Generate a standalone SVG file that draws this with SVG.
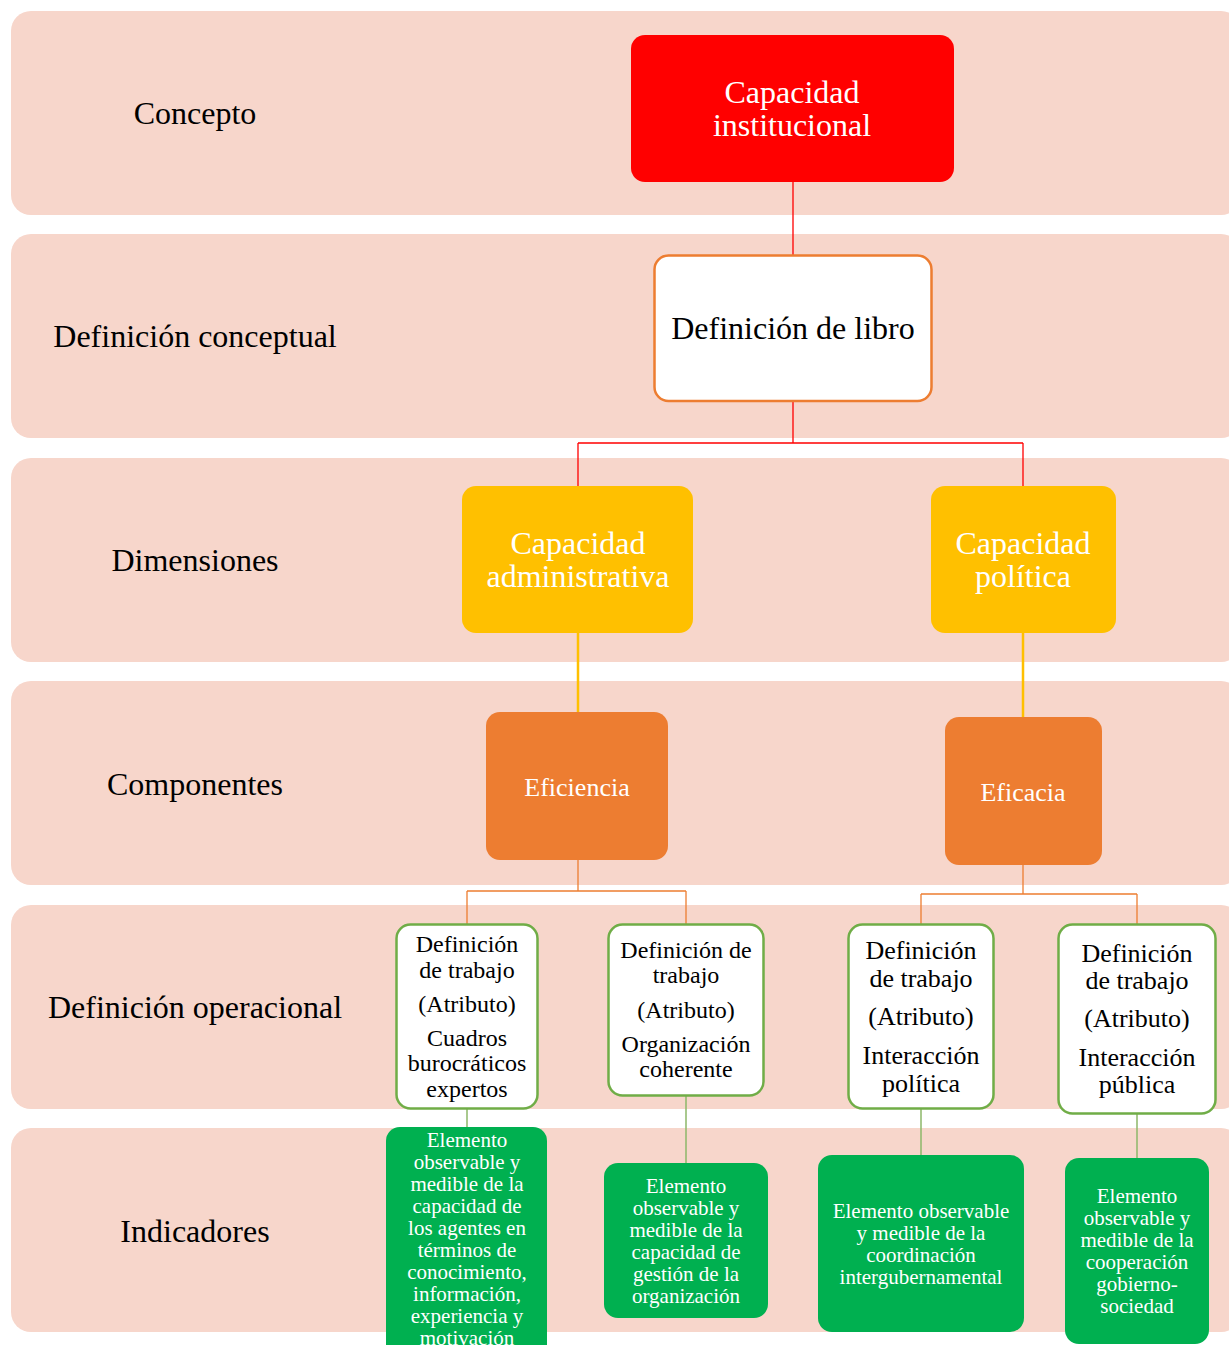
<svg xmlns="http://www.w3.org/2000/svg" width="1229" height="1345" viewBox="0 0 1229 1345">
<style>
text{font-family:"Liberation Serif","Times New Roman",serif;text-anchor:middle}
.band{fill:#F7D6CB}
.lbl{font-size:32px;fill:#000}
.w{fill:#fff}
.blk{fill:#000}
.op{fill:#fff;stroke:#70AD47;stroke-width:2.5}
.ind{fill:#00B050}
.red{stroke:#FF0000;stroke-width:1.3;fill:none}
.yel{stroke:#FFC000;stroke-width:2.5;fill:none}
.org{stroke:#ED7D31;stroke-width:1.3;fill:none}
.grn{stroke:#8DB86A;stroke-width:1.5;fill:none}
</style>
<rect width="1229" height="1345" fill="#fff"/>
<g id="bands">
<rect class="band" x="11" y="11" width="1230" height="204" rx="20"/>
<rect class="band" x="11" y="234" width="1230" height="204" rx="20"/>
<rect class="band" x="11" y="458" width="1230" height="204" rx="20"/>
<rect class="band" x="11" y="681" width="1230" height="204" rx="20"/>
<rect class="band" x="11" y="905" width="1230" height="204" rx="20"/>
<rect class="band" x="11" y="1128" width="1230" height="204" rx="20"/>
<text class="lbl" x="195" y="124">Concepto</text>
<text class="lbl" x="195" y="347">Definición conceptual</text>
<text class="lbl" x="195" y="571">Dimensiones</text>
<text class="lbl" x="195" y="795">Componentes</text>
<text class="lbl" x="195" y="1018">Definición operacional</text>
<text class="lbl" x="195" y="1242">Indicadores</text>
</g>
<g id="connectors">
<path class="red" d="M793 182V255M793 401V443M578 443H1023M578 443V486M1023 443V486"/>
<path class="yel" d="M578 633V712M1023 633V717"/>
<path class="org" d="M578 860V891M467 891H686M467 891V924M686 891V924M1023 865V894M921 894H1137M921 894V924M1137 894V924"/>
<path class="grn" d="M467 1109V1127M686 1096V1163M921 1109V1155M1137 1114V1158"/>
</g>
<g id="n-institucional">
<rect x="631" y="35" width="323" height="147" rx="14" fill="#FF0000"/>
<text class="w" font-size="32" x="792" y="103">Capacidad</text>
<text class="w" font-size="32" x="792" y="136">institucional</text>
</g>
<g id="n-libro">
<rect x="654.5" y="255.5" width="277" height="145.5" rx="14" fill="#fff" stroke="#ED7D31" stroke-width="2.5"/>
<text class="blk" font-size="32" x="793" y="339">Definición de libro</text>
</g>
<g id="n-administrativa">
<rect x="462" y="486" width="231" height="147" rx="14" fill="#FFC000"/>
<text class="w" font-size="32" x="578" y="554">Capacidad</text>
<text class="w" font-size="32" x="578" y="587">administrativa</text>
</g>
<g id="n-politica">
<rect x="931" y="486" width="185" height="147" rx="14" fill="#FFC000"/>
<text class="w" font-size="32" x="1023" y="554">Capacidad</text>
<text class="w" font-size="32" x="1023" y="587">política</text>
</g>
<g id="n-eficiencia">
<rect x="486" y="712" width="182" height="148" rx="14" fill="#ED7D31"/>
<text class="w" font-size="26" x="577" y="796">Eficiencia</text>
</g>
<g id="n-eficacia">
<rect x="945" y="717" width="157" height="148" rx="14" fill="#ED7D31"/>
<text class="w" font-size="26" x="1023" y="801">Eficacia</text>
</g>
<g id="n-op1">
<rect class="op" x="396.5" y="924.5" width="141" height="184" rx="14"/>
<g class="blk" font-size="24">
<text x="467" y="952">Definición</text>
<text x="467" y="978">de trabajo</text>
<text x="467" y="1012">(Atributo)</text>
<text x="467" y="1046">Cuadros</text>
<text x="467" y="1071">burocráticos</text>
<text x="467" y="1097">expertos</text>
</g>
</g>
<g id="n-op2">
<rect class="op" x="608.5" y="924.5" width="155" height="171" rx="14"/>
<g class="blk" font-size="24">
<text x="686" y="958">Definición de</text>
<text x="686" y="983">trabajo</text>
<text x="686" y="1018">(Atributo)</text>
<text x="686" y="1052">Organización</text>
<text x="686" y="1077">coherente</text>
</g>
</g>
<g id="n-op3">
<rect class="op" x="848.5" y="924.5" width="145" height="184" rx="14"/>
<g class="blk" font-size="26">
<text x="921" y="959">Definición</text>
<text x="921" y="987">de trabajo</text>
<text x="921" y="1025">(Atributo)</text>
<text x="921" y="1064">Interacción</text>
<text x="921" y="1092">política</text>
</g>
</g>
<g id="n-op4">
<rect class="op" x="1058.5" y="924.5" width="157" height="189" rx="14"/>
<g class="blk" font-size="26">
<text x="1137" y="962">Definición</text>
<text x="1137" y="989">de trabajo</text>
<text x="1137" y="1027">(Atributo)</text>
<text x="1137" y="1066">Interacción</text>
<text x="1137" y="1093">pública</text>
</g>
</g>
<g id="n-ind1">
<rect class="ind" x="386" y="1127" width="161" height="240" rx="14"/>
<g class="w" font-size="21">
<text x="467" y="1147">Elemento</text>
<text x="467" y="1169">observable y</text>
<text x="467" y="1191">medible de la</text>
<text x="467" y="1213">capacidad de</text>
<text x="467" y="1235">los agentes en</text>
<text x="467" y="1257">términos de</text>
<text x="467" y="1279">conocimiento,</text>
<text x="467" y="1301">información,</text>
<text x="467" y="1323">experiencia y</text>
<text x="467" y="1345">motivación</text>
</g>
</g>
<g id="n-ind2">
<rect class="ind" x="604" y="1163" width="164" height="155" rx="14"/>
<g class="w" font-size="21">
<text x="686" y="1193">Elemento</text>
<text x="686" y="1215">observable y</text>
<text x="686" y="1237">medible de la</text>
<text x="686" y="1259">capacidad de</text>
<text x="686" y="1281">gestión de la</text>
<text x="686" y="1303">organización</text>
</g>
</g>
<g id="n-ind3">
<rect class="ind" x="818" y="1155" width="206" height="177" rx="14"/>
<g class="w" font-size="21">
<text x="921" y="1218">Elemento observable</text>
<text x="921" y="1240">y medible de la</text>
<text x="921" y="1262">coordinación</text>
<text x="921" y="1284">intergubernamental</text>
</g>
</g>
<g id="n-ind4">
<rect class="ind" x="1065" y="1158" width="144" height="186" rx="14"/>
<g class="w" font-size="21">
<text x="1137" y="1203">Elemento</text>
<text x="1137" y="1225">observable y</text>
<text x="1137" y="1247">medible de la</text>
<text x="1137" y="1269">cooperación</text>
<text x="1137" y="1291">gobierno-</text>
<text x="1137" y="1313">sociedad</text>
</g>
</g>
</svg>
